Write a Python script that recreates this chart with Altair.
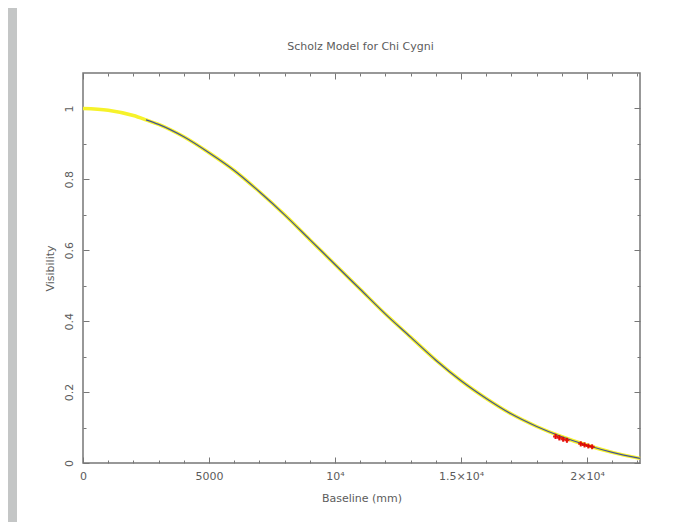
import altair as alt
import pandas as pd

# ---- data ----
baseline = [0, 1000, 2000, 2500, 3000, 4000, 5000, 6000, 7000, 8000, 9000, 10000,
            11000, 12000, 13000, 14000, 15000, 16000, 17000, 18000, 19000, 20000, 21000, 22100]
visibility = [1.0, 0.995, 0.98, 0.968, 0.955, 0.92, 0.875, 0.825, 0.765, 0.70, 0.63, 0.56,
              0.49, 0.42, 0.355, 0.29, 0.232, 0.182, 0.138, 0.103, 0.074, 0.05, 0.03, 0.013]
fit_start = 2500

data_baseline = [18750, 18900, 19050, 19200, 19750, 19900, 20050, 20200]
data_vis = [0.075, 0.071, 0.067, 0.064, 0.054, 0.051, 0.048, 0.046]
data_err = [0.007, 0.006, 0.006, 0.006, 0.005, 0.005, 0.005, 0.005]

x_tick_values = [0, 5000, 10000, 15000, 20000]
x_tick_labels = ["0", "5000", "10⁴", "1.5×10⁴", "2×10⁴"]
y_tick_values = [0, 0.2, 0.4, 0.6, 0.8, 1.0]
y_tick_labels = ["0", "0.2", "0.4", "0.6", "0.8", "1"]
x_minor = list(range(0, 22001, 1000))
y_minor = [round(i * 0.1, 1) for i in range(0, 11)]

title_text = "Scholz Model for Chi Cygni"
x_title = "Baseline (mm)"
y_title = "Visibility"

# ---- tables ----
model = pd.DataFrame({"b": baseline, "v": visibility})
fit = model[model["b"] >= fit_start]
pts = pd.DataFrame({"b": data_baseline, "v": data_vis})
pts["lo"] = [v - e for v, e in zip(data_vis, data_err)]
pts["hi"] = [v + e for v, e in zip(data_vis, data_err)]

W, H = 557, 390
FONT = "DejaVu Sans"
TXT = "#5c5c5c"
FRAME = "#777777"

xs = alt.Scale(domain=[0, 22100], nice=False, zero=False)
ys = alt.Scale(domain=[0, 1.1], nice=False, zero=False)


def label_expr(values, labels):
    parts = []
    for v, l in zip(values, labels):
        parts.append(f"abs(datum.value - {v}) < 1e-6 ? '{l}' : ")
    return "".join(parts) + "''"


x_major_size = {"condition": {"test": "datum.value % 5000 === 0", "value": 6}, "value": 3}
y_major_size = {"condition": {"test": "round(datum.value * 10) % 2 === 0", "value": 6}, "value": 3}

# main axes with labels and titles (no ticks)
x_main = alt.Axis(orient="bottom", values=x_tick_values, labelExpr=label_expr(x_tick_values, x_tick_labels),
                  ticks=False, domain=False, grid=False, labelFlush=False, labelPadding=7,
                  labelFont=FONT, labelFontSize=11, labelColor=TXT,
                  title=x_title, titleFont=FONT, titleFontSize=11, titleFontWeight="normal",
                  titleColor=TXT, titleY=35, titleBaseline="middle")
y_main = alt.Axis(orient="left", values=y_tick_values, labelExpr=label_expr(y_tick_values, y_tick_labels),
                  ticks=False, domain=False, grid=False, labelFlush=False, labelAngle=270,
                  labelAlign="center", labelBaseline="bottom", labelPadding=9,
                  labelFont=FONT, labelFontSize=11, labelColor=TXT,
                  title=y_title, titleFont=FONT, titleFontSize=11, titleFontWeight="normal",
                  titleColor=TXT, titleX=-33, titleY=H / 2, titleAngle=270,
                  titleAlign="center", titleBaseline="middle")

# inward tick axes (placed on the opposite side with negative offsets)
x_ticks_bottom = alt.Axis(orient="top", offset=-H, values=x_minor, labels=False, domain=False, grid=False,
                          title=None, tickSize=x_major_size, tickColor=FRAME, tickWidth=1)
x_ticks_top = alt.Axis(orient="bottom", offset=-H, values=x_minor, labels=False, domain=False, grid=False,
                       title=None, tickSize=x_major_size, tickColor=FRAME, tickWidth=1)
y_ticks_left = alt.Axis(orient="right", offset=-W, values=y_minor, labels=False, domain=False, grid=False,
                        title=None, tickSize=y_major_size, tickColor=FRAME, tickWidth=1)
y_ticks_right = alt.Axis(orient="left", offset=-W, values=y_minor, labels=False, domain=False, grid=False,
                         title=None, tickSize=y_major_size, tickColor=FRAME, tickWidth=1)

strip = alt.Chart(pd.DataFrame({"k": [0]})).mark_rect(color="#c4c6c6").encode(
    x=alt.value(-75), x2=alt.value(-66), y=alt.value(-65), y2=alt.value(H + 59)
)

title_mark = alt.Chart(pd.DataFrame({"t": [title_text]})).mark_text(
    font=FONT, fontSize=11, color=TXT, align="center", baseline="middle"
).encode(text="t:N", x=alt.value(W / 2 - 1), y=alt.value(-26))

yellow = alt.Chart(model).mark_line(color="#f6f22a", strokeWidth=3.5, interpolate="monotone").encode(
    x=alt.X("b:Q", scale=xs, axis=x_main),
    y=alt.Y("v:Q", scale=ys, axis=y_main),
)

blue = alt.Chart(fit).mark_line(color="#42529a", strokeWidth=1.2, interpolate="monotone").encode(
    x=alt.X("b:Q", scale=xs, axis=x_ticks_bottom),
    y=alt.Y("v:Q", scale=ys, axis=y_ticks_left),
)

errs = alt.Chart(pts).mark_rule(color="#ff3000", strokeWidth=1.5, opacity=0.8).encode(
    x=alt.X("b:Q", scale=xs, axis=None),
    y=alt.Y("lo:Q", scale=ys, axis=None),
    y2="hi:Q",
)

dots = alt.Chart(pts).mark_point(shape="cross", filled=True, color="#e00000", size=26, opacity=0.85).encode(
    x=alt.X("b:Q", scale=xs, axis=x_ticks_top),
    y=alt.Y("v:Q", scale=ys, axis=y_ticks_right),
)

chart = alt.layer(strip, title_mark, yellow, blue, errs, dots).resolve_axis(
    x="independent", y="independent"
).properties(
    width=W, height=H,
    autosize=alt.AutoSizeParams(type="none"),
    padding={"left": 75, "top": 65, "right": 50, "bottom": 59},
    background="white",
).configure_view(
    stroke=FRAME, strokeWidth=1.5
)

chart.save("out.html", embed_options={"renderer": "svg", "actions": False})
